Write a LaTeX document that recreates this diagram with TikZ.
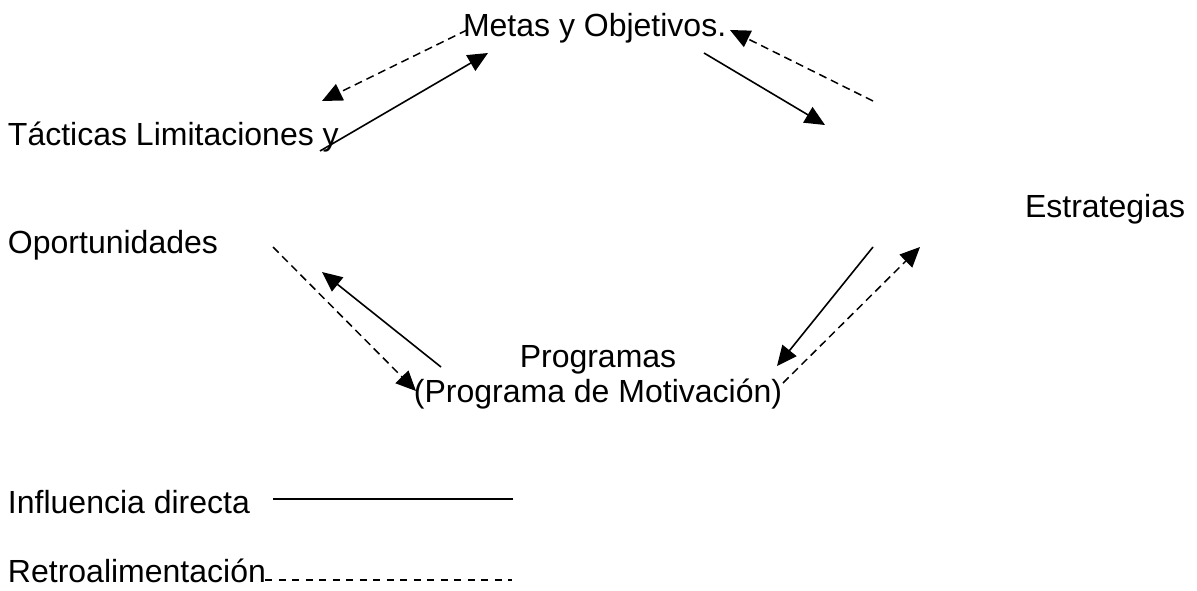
\documentclass[tikz,border=0pt]{standalone}
\usepackage{fontspec}
\setmainfont{Liberation Sans}
\usetikzlibrary{arrows.meta}
\begin{document}
\begin{tikzpicture}[x=1pt,y=-1pt,
  label/.style={inner sep=0pt,outer sep=0pt,font=\fontsize{32}{36}\selectfont},
  direct/.style={line width=1.6pt,-{Triangle[length=20pt,width=18pt]}},
  feedback/.style={line width=1.5pt,dash pattern=on 8pt off 5pt,-{Triangle[length=20pt,width=18pt]}},
  legdirect/.style={line width=1.6pt},
  legfeedback/.style={line width=1.3pt,dash pattern=on 7pt off 6.5pt}]
\useasboundingbox (0,0) rectangle (1197,590);

% concepts of the cycle
\node[label,anchor=base west] (metas) at (463,36) {Metas y Objetivos.};
\node[label,anchor=base west] (tact) at (8,145) {Tácticas Limitaciones y};
\node[label,anchor=base west] (oport) at (8,253) {Oportunidades};
\node[label,anchor=base west] (estr) at (1025,217) {Estrategias};
\node[label,anchor=base] (prog) at (598,367) {Programas};
\node[label,anchor=base] (progm) at (598,402) {(Programa de Motivación)};

% connector end points
\coordinate (m1) at (467,30);
\coordinate (t1) at (322,101);
\coordinate (t2) at (320,151);
\coordinate (m2) at (488,53);
\coordinate (m3) at (704,53);
\coordinate (e1) at (825,125);
\coordinate (e2) at (873,101);
\coordinate (m4) at (730,30);
\coordinate (e3) at (873,247);
\coordinate (p1) at (777,366);
\coordinate (p2) at (783,383);
\coordinate (e4) at (920,247);
\coordinate (p3) at (441,367);
\coordinate (o1) at (322,272);
\coordinate (o2) at (273,247);
\coordinate (p4) at (416,391);

% direct influence
\draw[direct] (t2) -- (m2);
\draw[direct] (m3) -- (e1);
\draw[direct] (e3) -- (p1);
\draw[direct] (p3) -- (o1);

% feedback
\draw[feedback] (m1) -- (t1);
\draw[feedback] (e2) -- (m4);
\draw[feedback] (p2) -- (e4);
\draw[feedback] (o2) -- (p4);

% legend
\node[label,anchor=base west] (ldir) at (8,513) {Influencia directa};
\node[label,anchor=base west] (lret) at (8,582) {Retroalimentación};
\coordinate (ld1) at (273,499);
\coordinate (ld2) at (513,499);
\coordinate (lr1) at (265,580);
\coordinate (lr2) at (512,580);
\draw[legdirect] (ld1) -- (ld2);
\draw[legfeedback] (lr1) -- (lr2);
\end{tikzpicture}
\end{document}
